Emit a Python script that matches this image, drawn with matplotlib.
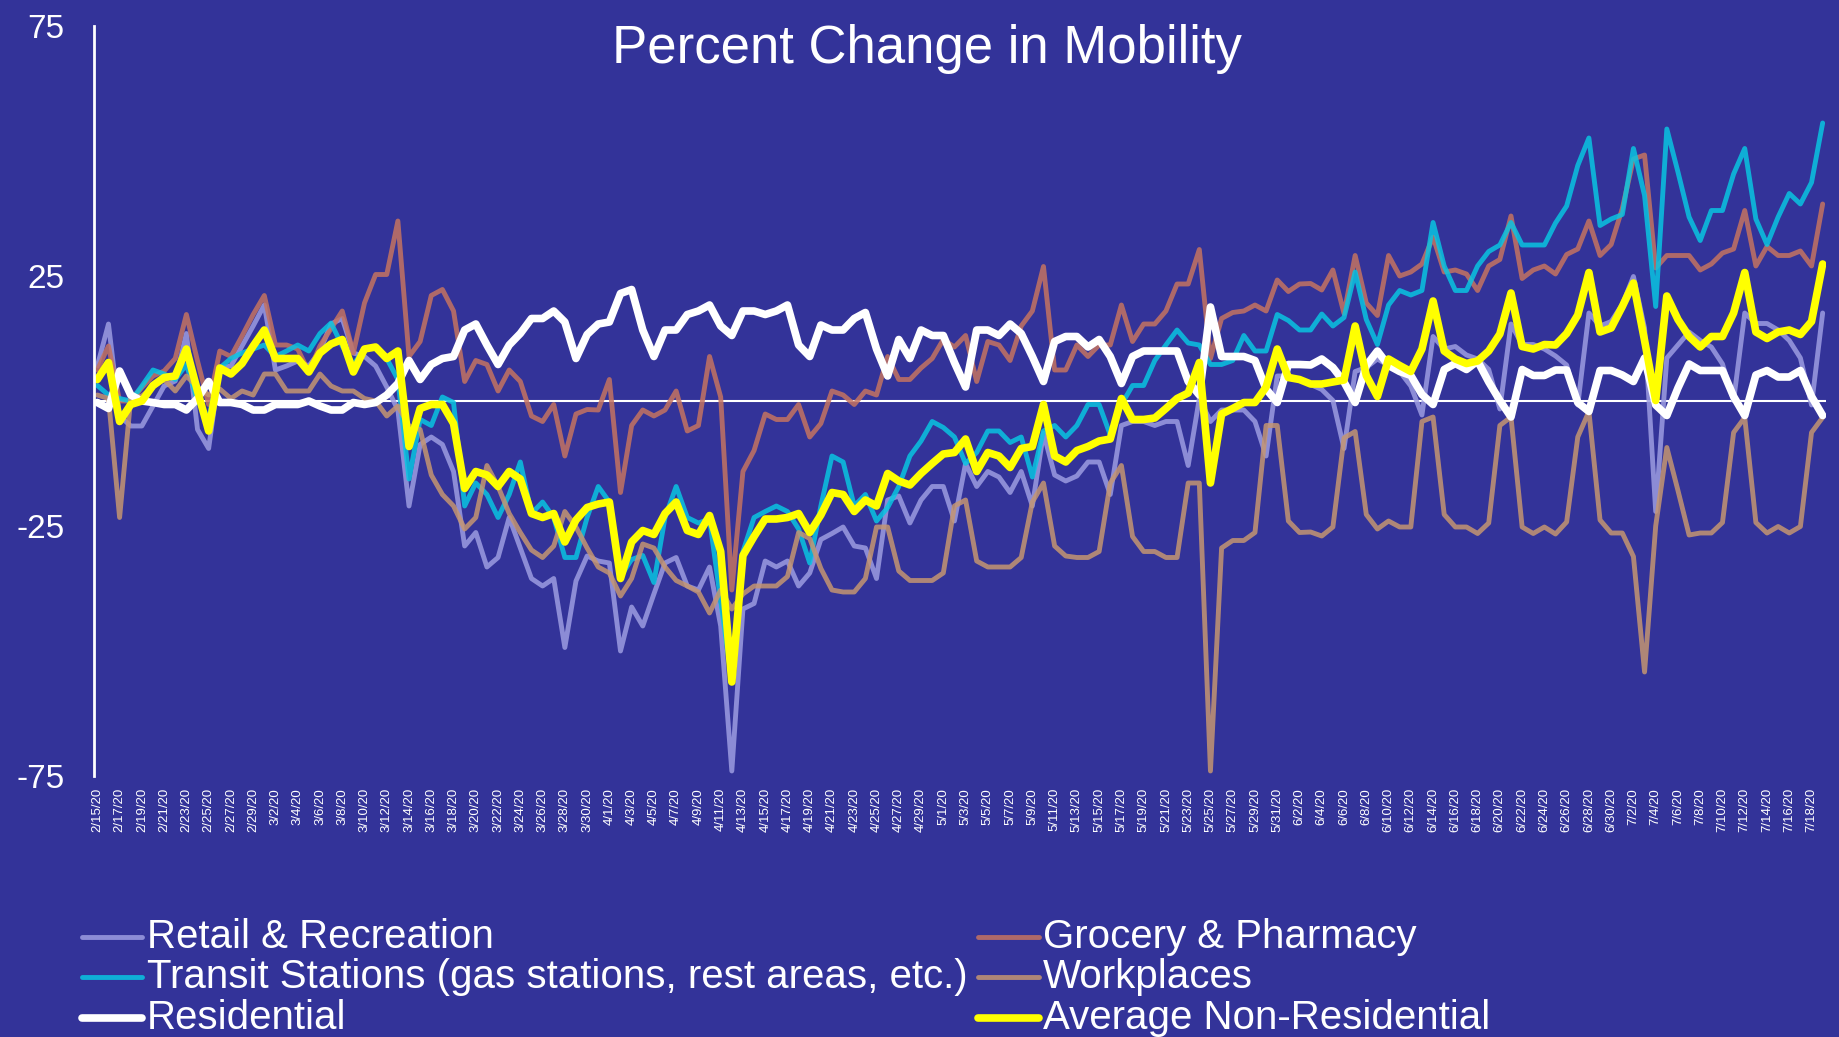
import numpy as np
import pandas as pd
import matplotlib
matplotlib.use("Agg")
import matplotlib.pyplot as plt
from matplotlib.lines import Line2D

plt.rcParams['font.family'] = ['Liberation Sans', 'DejaVu Sans']

# daily values, 2/15/20 .. 7/19/20 (rows are weeks starting on Saturday)
dates = pd.date_range('2020-02-15', '2020-07-19', freq='D')

retail = [
    7, 15.4, -3, -5, -5, -1, 3,
    4, 13.5, -5.7, -9.5, 6.6, 7, 11,
    15, 19.2, 6.2, 7, 8, 7, 10,
    15.4, 16.5, 9.6, 8.9, 7, 2.8, -1.8,
    -21, -8.7, -7.2, -8.7, -14.1, -29, -26.3,
    -33.2, -31.3, -23.3, -29.4, -35.5, -37, -35.5,
    -49.3, -36, -31, -32, -32.4, -50, -41.2,
    -45, -38.6, -32.4, -31.3, -37, -37.8, -33.2,
    -45, -74, -41.6, -40.5, -32, -33.2, -32,
    -37, -34.4, -27.7, -26.5, -25.2, -29, -29.4,
    -35.5, -19.8, -19, -24.4, -19.8, -17.1, -17.1,
    -24, -12.5, -17.1, -14.1, -15.2, -18.3, -14.1,
    -21, -6.4, -14.8, -16, -15, -12.2, -12.2,
    -18.7, -4.9, -4.1, -4.1, -4.9, -4.1, -4.1,
    -12.9, 0.5, -4.1, -1.8, -1.8, -1.8, -4.1,
    -11, 5, 5, 4.3, 3.3, 2.3, 0.1,
    -9.5, 5.9, 6.7, 8.4, 7.1, 5.9, 3,
    -2.8, 12.9, 10.4, 10.9, 9.2, 8.4, 6.3,
    -1.6, 15.4, 11.3, 11.3, 10.4, 9, 7.2,
    -0.8, 17.6, 15, 15.9, 19.3, 24.9, 14.6,
    -22.1, 8.6, 11.2, 13.8, 12.1, 10.8, 7.4,
    0.1, 17.6, 15.5, 15.5, 14.2, 12.1, 8.6,
    -0.8, 17.6,
]

grocery = [
    6.2, 11, 0, 0, 2.7, 5, 6,
    8.5, 17.3, 8, -0.7, 10, 8.9, 13,
    17.3, 21.1, 11.2, 11.2, 10.4, 5.8, 11,
    14.5, 18, 9.6, 19.6, 25.3, 25.3, 36,
    8.9, 11.9, 21.1, 22.3, 18, 3.9, 8.1,
    7.3, 2, 6.2, 3.9, -3, -4.1, -0.7,
    -11, -2.6, -1.7, -1.8, 4.3, -18.3, -4.9,
    -1.8, -3, -1.8, 2, -6, -4.9, 8.9,
    0.8, -37.8, -14.1, -9.9, -2.6, -3.7, -3.7,
    -0.7, -7.2, -4.5, 2, 1.2, -0.7, 2,
    1.2, 8.9, 4.3, 4.3, 6.6, 8.5, 12.3,
    10.8, 13.1, 3.9, 11.9, 11.2, 8.1, 15,
    18, 26.9, 6.2, 6.2, 11.2, 8.9, 11.2,
    11.2, 19.2, 11.9, 15.4, 15.4, 18, 23.4,
    23.4, 30.3, 8.5, 16.5, 17.7, 18, 19.2,
    18, 24.2, 21.9, 23.4, 23.5, 22.2, 26.2,
    17.5, 29.1, 19.6, 17.1, 29.1, 25, 25.8,
    27.4, 32.8, 25.8, 26.2, 25.4, 22.1, 27,
    28.3, 37, 24.5, 26.2, 27, 25.4, 29.3,
    30.4, 36, 29.1, 31.3, 38.5, 48.4, 49.2,
    26.6, 29.1, 29.1, 29.1, 26.2, 27.4, 29.6,
    30.4, 38.1, 27, 30.9, 29.1, 29.1, 30,
    27, 39.4,
]

transit = [
    3.1, 1.2, 0.5, 0, 3, 6.2, 5.4,
    4.3, 7.3, 0, -3.5, 6.6, 8.5, 9.6,
    10.4, 11.2, 8.9, 10, 11.2, 10, 13.5,
    15.6, 11, 7.3, 10.4, 10.8, 8.5, 4.3,
    -15.6, -3.7, -4.9, 0.8, -0.3, -21, -16.4,
    -18.7, -23.3, -18.7, -12.2, -22.5, -20.2, -23.3,
    -31.3, -31.3, -23.3, -17.1, -20.2, -35.1, -31.7,
    -30.9, -36.3, -23.3, -17.1, -23.3, -24.4, -23.6,
    -40, -56, -30.1, -23.3, -22.1, -21, -22.1,
    -25.6, -32.4, -21, -11, -12.2, -21, -18.7,
    -24, -21.3, -17.1, -11, -8, -4.1, -5.3,
    -7.2, -12.5, -10.3, -6, -6, -8.3, -7.2,
    -15.2, -6, -4.9, -7.2, -4.9, -0.7, -0.7,
    -6.8, -0.7, 3.1, 3.1, 8.1, 11.2, 14.2,
    11.6, 11.2, 7.3, 7.3, 8.1, 13.1, 10,
    10, 17.3, 16.1, 14.2, 14.2, 17.4, 15,
    16.7, 25.8, 16.3, 11.3, 19.2, 22.1, 21.2,
    22.1, 35.7, 27, 22.1, 22.1, 27, 29.9,
    31.2, 35.7, 31.2, 31.2, 31.2, 35.6, 39,
    47.1, 52.6, 35.1, 36.4, 37.3, 50.5, 41.1,
    18.9, 54.4, 45.8, 36.8, 32.1, 38.1, 38.1,
    45.4, 50.5, 36.4, 31.3, 36.8, 41.5, 39.4,
    43.7, 55.6,
]

workplaces = [
    1.2, 0.5, -23.3, 0.5, 1, 2.8, 4.3,
    2, 5, 2.8, 1.2, 2.4, 0.5, 2,
    1.2, 5.4, 5.4, 2, 2, 2, 5.4,
    3, 2, 2, 0.5, 0, -3, -1,
    -5, -5.7, -14.8, -18.7, -21, -25.6, -23.3,
    -12.9, -17.1, -22.5, -26.3, -29.8, -31.3, -29,
    -22.1, -25.2, -29.4, -33.2, -34.4, -39, -35.5,
    -28.6, -29.4, -33.2, -35.9, -37, -38.2, -42.4,
    -37.8, -41.6, -38.6, -37, -37, -37, -35.1,
    -26.3, -27.5, -33.5, -37.8, -38.2, -38.2, -35.5,
    -25.2, -25.2, -34, -35.9, -35.9, -35.9, -34.4,
    -21, -19.8, -32, -33.2, -33.2, -33.2, -31.3,
    -20.2, -16.4, -29, -31, -31.3, -31.3, -30.1,
    -16.4, -12.9, -27.1, -30.1, -30.1, -31.3, -31.3,
    -16.4, -16.4, -74, -29.4, -27.9, -27.9, -26.3,
    -4.9, -4.9, -24, -26.3, -26.2, -27, -25.2,
    -7.4, -6.1, -22.7, -25.6, -24, -25.2, -25.2,
    -4.1, -3.2, -22.7, -25.2, -25.2, -26.5, -24.4,
    -4.9, -3.2, -25.2, -26.5, -25.2, -26.6, -24.2,
    -7.2, -2.1, -23.8, -26.4, -26.4, -31.1, -54.2,
    -25, -9.3, -17.9, -26.8, -26.4, -26.4, -24.3,
    -6.3, -3.3, -24.3, -26.4, -25.1, -26.4, -25.1,
    -6.3, -3.3,
]

residential = [
    -0.3, -1.5, 6, 1.2, 0, -0.3, -0.7,
    -0.7, -1.8, 0.5, 3.9, -0.3, -0.3, -0.7,
    -1.8, -1.8, -0.7, -0.7, -0.7, 0, -1,
    -1.8, -1.8, -0.3, -0.7, -0.3, 1.2, 3.5,
    8.1, 4.3, 7.3, 8.5, 8.9, 14.2, 15.4,
    11.2, 7.3, 11.2, 13.5, 16.5, 16.5, 18,
    15.8, 8.5, 13.3, 15.4, 15.8, 21.5, 22.3,
    14.2, 8.9, 14.2, 14.2, 17.3, 18, 19.2,
    15, 13.1, 18, 18, 17.3, 18, 19.2,
    11.2, 8.9, 15.2, 14.2, 14.2, 16.5, 17.7,
    10.4, 5, 12.3, 8.5, 14.2, 13.1, 13.1,
    7.7, 2.8, 14.2, 14.2, 13.1, 15.4, 13.5,
    8.9, 3.9, 11.9, 12.9, 12.9, 10.8, 12.3,
    8.9, 3.5, 8.9, 10, 10, 10, 10,
    3.9, 1.2, 18.8, 8.9, 8.9, 8.9, 8.1,
    2.4, -0.3, 7.3, 7.3, 7.2, 8.4, 6.7,
    3.8, -0.3, 7.1, 10, 7.1, 5.9, 5.1,
    1.3, -0.7, 6.3, 7.5, 6.3, 8, 3.8,
    0.1, -3.2, 6.3, 5.1, 5.1, 6.2, 6.2,
    -0.3, -2.1, 6.1, 6.1, 5.2, 3.9, 8.6,
    -0.8, -2.9, 2.6, 7.4, 6.1, 6.1, 6.1,
    0.9, -2.9, 5.2, 6.1, 4.8, 4.8, 6.1,
    0.9, -2.9,
]

avg_non_res = [
    4.3, 7.7, -4.1, -0.7, 0, 3.1, 4.7,
    5, 10.4, 2, -6, 6.6, 5.4, 7.5,
    11, 14.2, 8.5, 8.5, 8.5, 5.8, 9.6,
    11.4, 12.3, 5.8, 10.4, 10.8, 8.5, 10,
    -9.1, -1.5, -0.7, -0.7, -4.5, -17.5, -14.1,
    -14.8, -17.1, -14.1, -15.6, -22.5, -23.3, -22.5,
    -28.2, -23.8, -21.3, -20.6, -20.2, -35.5, -28.2,
    -25.9, -26.7, -22.5, -20.2, -25.9, -26.7, -22.9,
    -30.1, -56.2, -30.9, -27.1, -23.6, -23.6, -23.3,
    -22.5, -26.3, -22.8, -18.3, -18.7, -22.1, -19.8,
    -21, -14.5, -16, -16.8, -14.5, -12.5, -10.6,
    -10.3, -7.6, -14.1, -10.3, -11, -13.3, -9.5,
    -9.1, -0.7, -11, -12.2, -9.9, -9.1, -8,
    -7.6, 0.5, -3.7, -3.7, -3.4, -1.5, 0.5,
    1.6, 7.7, -16.4, -2.6, -1.5, -0.3, -0.3,
    2.8, 10.4, 4.7, 4.3, 3.4, 3.4, 3.8,
    4.2, 15, 5.1, 0.9, 8.4, 7.1, 5.9,
    10.4, 20, 10, 8.4, 7.5, 8, 10,
    13.4, 21.6, 10.9, 10.4, 11.3, 11.2, 13.5,
    17.2, 25.7, 13.8, 14.6, 18.9, 23.6, 12.1,
    0.1, 21, 16.3, 12.9, 10.8, 12.9, 12.9,
    17.6, 25.7, 13.8, 12.5, 13.8, 14.2, 13.3,
    15.9, 27.4,
]

names = ['Retail & Recreation', 'Grocery & Pharmacy',
         'Transit Stations (gas stations, rest areas, etc.)', 'Workplaces',
         'Residential', 'Average Non-Residential']

BG = '#333399'
series = [
    (retail, '#9c9ce1', 3.5, 0.85),
    (grocery, '#c57361', 3.5, 0.85),
    (transit, '#09c5e2', 3.5, 0.85),
    (workplaces, '#c59672', 3.5, 0.85),
    (residential, '#ffffff', 5.5, 1.0),
    (avg_non_res, '#ffff00', 5.5, 1.0),
]

W, H = 1839, 1037
fig = plt.figure(figsize=(W / 100, H / 100), dpi=100, facecolor=BG)
ax = fig.add_axes([94 / W, (H - 776) / H, 1732 / W, 750 / H])
ax.set_facecolor(BG)

x = np.arange(len(dates))
ax.axhline(0, color='white', lw=1.5, zorder=1.5)
handles = []
for (vals, color, lw, alpha), name in zip(series, names):
    ln, = ax.plot(x, vals, color=color, lw=lw, alpha=alpha,
                  solid_joinstyle='round', solid_capstyle='round', label=name)
    handles.append(ln)

ax.set_xlim(-0.3, len(dates) - 1 + 0.3)
ax.set_ylim(-75, 75)
ax.set_yticks([-75, -25, 25, 75])
ax.set_yticklabels(['-75', '-25', '25', '75'])
ax.set_xticks(x[::2])
ax.set_xticklabels([f"{d.month}/{d.day}/{d.strftime('%y')}" for d in dates[::2]],
                   rotation=90)
ax.tick_params(axis='y', length=0, pad=21, labelsize=24, labelcolor='white')
ax.tick_params(axis='x', length=0, pad=8.5, labelsize=9.5, labelcolor='white')
for s in ['top', 'right', 'bottom']:
    ax.spines[s].set_visible(False)
ax.spines['left'].set_color('white')
ax.spines['left'].set_linewidth(2)

fig.text(0.504, 1 - 49 / H, 'Percent Change in Mobility', ha='center', va='center',
         color='white', fontsize=38)

# legend, two columns laid out like the original
rows_y = [937, 977, 1018]
cols = [(82, 142, 147), (978, 1039, 1043)]
order = [[0, 2, 4], [1, 3, 5]]
for (x0, x1, xt), idxs in zip(cols, order):
    for ry, k in zip(rows_y, idxs):
        h = handles[k]
        yf = 1 - ry / H
        fig.add_artist(Line2D([x0 / W, x1 / W], [yf, yf], transform=fig.transFigure,
                              color=h.get_color(), lw=h.get_linewidth(),
                              alpha=h.get_alpha(), solid_capstyle='round'))
        fig.text(xt / W, yf, names[k], ha='left', va='center', color='white',
                 fontsize=29)

fig.savefig('out.png', dpi=100, facecolor=BG)
